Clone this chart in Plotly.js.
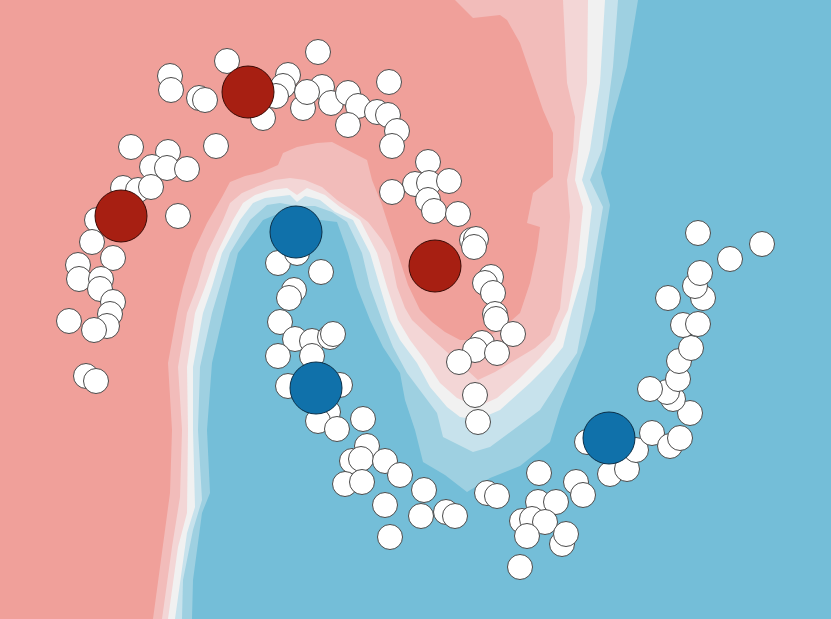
<!DOCTYPE html>
<html>
<head>
<meta charset="utf-8">
<script src="https://cdn.plot.ly/plotly-3.0.1.min.js"></script>
<style>html,body{margin:0;padding:0;background:#f0a09a;}#chart{width:831px;height:619px;}</style>
</head>
<body>
<div id="chart"></div>
<script>
// Decision-function bands (boundary of each level)
const level1X = [153,163,170,172,168,177,183,193,207,222,230,245,262,278,283,297,317,332,347,367,372,382,390,398,408,420,432,445,460,482,503,520,530,537,540,527,533,553,553,543,530,520,507,500,473,463,455];
const level1Y = [619,547,493,430,363,313,287,253,223,197,182,176,172,165,153,147,143,142,150,160,180,205,230,255,285,310,322,332,340,340,328,313,283,250,227,223,193,177,133,110,73,43,20,15,18,8,0];

const level2X = [162,172,180,182,178,187,197,207,223,230,242,258,275,290,305,322,337,355,368,382,390,397,405,412,428,445,462,478,495,515,535,550,555,560,563,567,570,567,573,575,567,563];
const level2Y = [619,547,497,430,367,313,287,253,220,203,193,186,180,178,180,187,200,212,222,240,253,287,308,320,335,350,366,380,372,360,348,335,320,309,280,250,217,180,150,117,83,0];

const level3X = [168,178,187,188,187,195,205,217,233,243,255,270,287,297,307,325,340,360,377,387,398,410,425,440,457,477,497,520,540,555,563,568,577,583,575,580,587,588];
const level3Y = [619,547,513,430,367,313,287,253,220,203,195,190,188,195,188,195,207,220,253,287,320,340,360,383,398,407,398,378,358,340,320,310,267,207,180,133,83,0];

const level4X = [175,187,195,193,193,203,212,222,240,253,265,280,290,297,305,320,335,353,370,380,390,400,417,430,447,460,477,500,530,550,563,567,572,585,592,582,590,600,605];
const level4Y = [619,533,507,430,367,313,287,253,220,203,198,196,195,202,196,200,212,220,253,287,320,340,363,387,407,417,420,410,383,363,347,330,310,267,207,180,150,83,0];

const level5X = [182,183,193,202,198,200,212,220,230,250,267,280,297,315,332,347,362,370,382,393,407,425,437,443,473,490,517,540,553,560,577,583,593,603,590,602,613,618];
const level5Y = [619,580,530,500,430,367,313,287,253,220,205,203,206,206,212,222,253,287,320,347,373,397,413,437,452,447,427,410,390,378,353,320,267,207,180,150,67,0];

const level6X = [192,193,202,210,207,212,225,230,238,263,275,297,320,337,348,357,370,383,400,405,415,423,445,467,490,520,550,560,573,585,595,600,610,601,613,627,638];
const level6Y = [619,580,513,493,430,363,307,287,253,220,215,217,220,222,253,287,320,347,373,400,430,462,475,492,478,466,442,409,376,345,310,267,205,173,117,67,0];

const levelColors = ['#f2bcba','#f3d6d6','#f1f1f1','#c7e2ec','#9ed0e1','#74bed8'];

// Unlabeled samples
const unlabeledX = [227,170,171,199,205,263,216,131,168,152,167,187,123,138,151,178,97,92,113,78,79,101,100,113,110,107,94,69,86,96,
  288,283,276,318,303,322,307,331,348,358,348,377,388,397,392,389,428,415,429,449,428,434,458,472,476,474,392,491,485,493,495,496,513,482,475,497,459,475,478,
  278,297,321,294,289,280,295,312,330,333,278,312,288,340,328,318,337,363,367,352,361,385,400,345,362,385,424,421,446,455,390,487,497,539,538,556,522,532,545,527,520,562,566,576,583,587,610,627,636,652,670,680,690,673,667,650,678,679,691,683,698,668,703,695,700,730,698,762];
const unlabeledY = [61,76,90,98,100,118,146,147,152,167,168,169,188,190,187,216,220,242,258,265,279,279,289,302,314,326,330,321,376,381,
  75,86,96,52,108,87,92,103,93,106,125,112,115,131,146,82,162,184,183,181,200,211,214,240,239,247,192,277,283,293,314,319,334,343,350,353,362,395,422,
  263,253,272,290,298,322,339,341,337,334,356,356,386,385,412,421,429,419,446,461,459,461,475,484,482,505,490,516,512,516,537,493,496,473,502,502,521,519,522,536,567,544,534,482,495,442,474,469,450,433,446,438,413,399,392,389,379,361,348,325,324,298,298,286,273,259,233,244];

// Labeled samples
const labeledRedX = [248,121,435];
const labeledRedY = [92,216,266];
const labeledBlueX = [296,316,609];
const labeledBlueY = [232,388,438];

const traces = [];
const levels = [[level1X,level1Y],[level2X,level2Y],[level3X,level3Y],[level4X,level4Y],[level5X,level5Y],[level6X,level6Y]];
levels.forEach(function(l, i){
  traces.push({
    type:'scatter', mode:'lines',
    x: l[0].concat([831,831,l[0][0]]),
    y: l[1].concat([0,619,l[1][0]]),
    fill:'toself', fillcolor: levelColors[i],
    line:{width:0, color: levelColors[i]},
    hoverinfo:'skip', showlegend:false
  });
});
traces.push({
  type:'scatter', mode:'markers', x: unlabeledX, y: unlabeledY,
  marker:{size:25, color:'#ffffff', line:{width:1, color:'#4a4a4a'}},
  showlegend:false
});
traces.push({
  type:'scatter', mode:'markers', x: labeledRedX, y: labeledRedY,
  marker:{size:52, color:'#a71f12', line:{width:1, color:'#3a0a05'}},
  showlegend:false
});
traces.push({
  type:'scatter', mode:'markers', x: labeledBlueX, y: labeledBlueY,
  marker:{size:52, color:'#1071aa', line:{width:1, color:'#0a2f48'}},
  showlegend:false
});

const layout = {
  width:831, height:619,
  margin:{l:0,r:0,t:0,b:0,pad:0},
  paper_bgcolor:'#f0a09a', plot_bgcolor:'#f0a09a',
  xaxis:{range:[0,831], visible:false, fixedrange:true},
  yaxis:{range:[619,0], visible:false, fixedrange:true},
  showlegend:false
};
Plotly.newPlot('chart', traces, layout, {staticPlot:true, displayModeBar:false});
</script>
</body>
</html>
